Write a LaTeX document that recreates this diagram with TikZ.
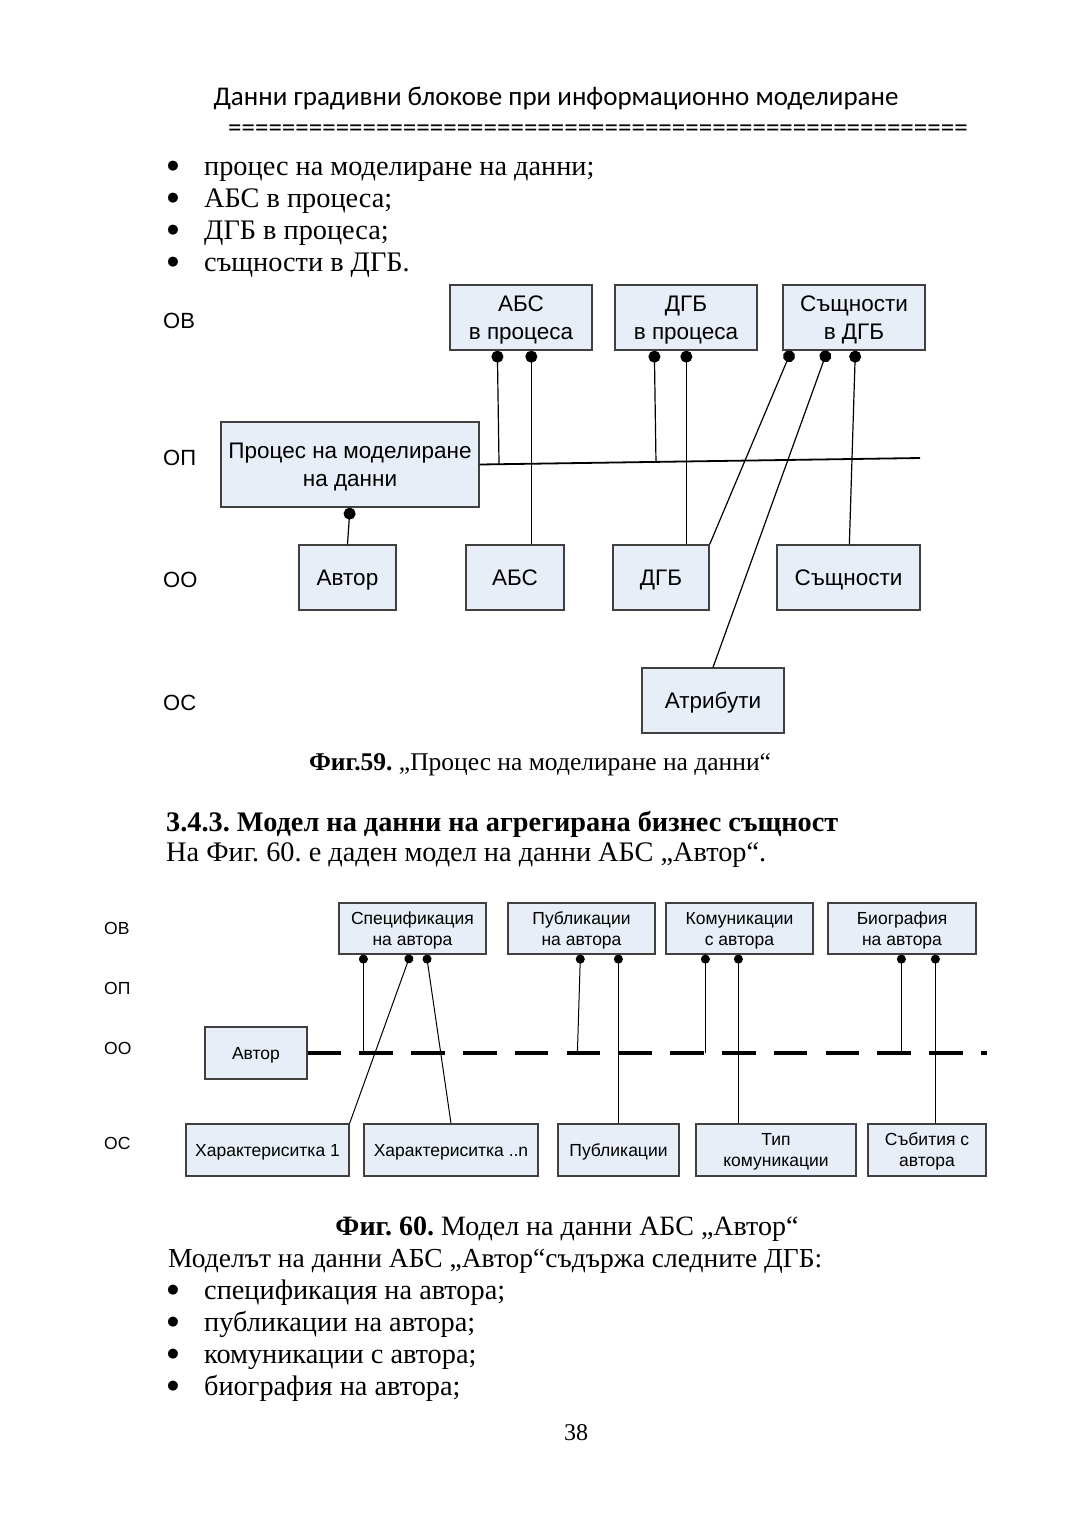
\documentclass[tikz,border=0pt]{standalone}
\usepackage{fontspec}
\setmainfont{Liberation Serif}
\newfontfamily\arialf{Liberation Sans}
\newfontfamily\calf{Carlito}
\newfontfamily\djvf{DejaVu Sans}
\usetikzlibrary{arrows.meta,calc}
\definecolor{boxfill}{RGB}{232,238,247}
\definecolor{boxline}{RGB}{64,64,64}
\newcommand{\bxsa}{\rule[-5pt]{0pt}{26pt}}
\newcommand{\bxsb}{\rule[-4pt]{0pt}{20.2pt}}
\frenchspacing
\begin{document}
\begin{tikzpicture}[x=1pt,y=-1pt,
  box59/.style={draw=boxline,line width=1.3pt,fill=boxfill,inner sep=0pt,align=center,
    font=\arialf\fontsize{22.5}{28}\selectfont},
  box60/.style={draw=boxline,line width=1.2pt,fill=boxfill,inner sep=0pt,align=center,
    font=\arialf\fontsize{17.5}{21}\selectfont},
  lab59/.style={anchor=west,inner sep=0pt,font=\arialf\fontsize{22}{26}\selectfont},
  lab60/.style={anchor=west,inner sep=0pt,font=\arialf\fontsize{17.5}{21}\selectfont},
  body/.style={anchor=base west,inner sep=0pt,font=\fontsize{28.3}{32}\selectfont},
  bul/.style={anchor=center,inner sep=0pt,font=\djvf\fontsize{13}{14}\selectfont},
  conn59/.style={line width=1.2pt,draw=black},
  conn60/.style={line width=1pt,draw=black},
  dot59/.style={conn59,{Circle[length=12pt,width=12pt]}-},
  dot60/.style={conn60,{Circle[length=9pt,width=9pt]}-},
  hline/.style={line width=1.8pt,draw=black},
  dash60/.style={line width=3.1pt,draw=black,dash pattern=on 33.5pt off 18.3pt}
]
\fill[white] (0,0) rectangle (1080,1532);
\useasboundingbox (0,0) rectangle (1080,1532);

% header
\node[anchor=base,inner sep=0pt,font=\calf\fontsize{27}{32}\selectfont] (hdr) at (556,105)
  {Данни градивни блокове при информационно моделиране};
\node[anchor=base west,inner sep=0pt,font=\calf\fontsize{27}{32}\selectfont] (eqline) at (228,136)
  {=======================================================};

% first list
\node[bul] (bu1) at (173,166) {●};
\node[body] (li1) at (204,175) {процес на моделиране на данни;};
\node[bul] (bu2) at (173,198) {●};
\node[body] (li2) at (204,207) {АБС в процеса;};
\node[bul] (bu3) at (173,230) {●};
\node[body] (li3) at (204,239) {ДГБ в процеса;};
\node[bul] (bu4) at (173,262) {●};
\node[body] (li4) at (204,271) {същности в ДГБ.};

% Fig 59 labels
\node[lab59] (l59ob) at (163,321) {ОВ};
\node[lab59] (l59op) at (163,458) {ОП};
\node[lab59] (l59oo) at (163,580) {ОО};
\node[lab59] (l59os) at (163,703) {ОС};

% Fig 59 boxes
\node[box59,minimum width=142pt,minimum height=65pt] (b59abs) at (521,317.5) {\bxsa АБС\\\bxsa в процеса};
\node[box59,minimum width=142pt,minimum height=65pt] (b59dgb) at (686,317.5) {\bxsa ДГБ\\\bxsa в процеса};
\node[box59,minimum width=142pt,minimum height=65pt] (b59sas) at (854,317.5) {\bxsa Същности\\\bxsa в ДГБ};
\node[box59,minimum width=258pt,minimum height=85pt] (b59proc) at (350,464.5) {\bxsa Процес на моделиране\\\bxsa на данни};
\node[box59,minimum width=97pt,minimum height=65pt] (b59avt) at (347.5,577.5) {\bxsa Автор};
\node[box59,minimum width=98pt,minimum height=65pt] (b59abs2) at (515,577.5) {\bxsa АБС};
\node[box59,minimum width=96pt,minimum height=65pt] (b59dgb2) at (661,577.5) {\bxsa ДГБ};
\node[box59,minimum width=143pt,minimum height=65pt] (b59sas2) at (848.5,577.5) {\bxsa Същности};
\node[box59,minimum width=142pt,minimum height=65pt] (b59atr) at (713,700.5) {\bxsa Атрибути};

% Fig 59 connectors
\coordinate (h59) at (920,458);
\draw[hline] (b59proc.east) -- (h59);
\coordinate (p59a1) at ([xshift=48pt]b59abs.south west);
\coordinate (p59a2) at ([xshift=82pt]b59abs.south west);
\coordinate (p59d1) at ([xshift=40pt]b59dgb.south west);
\coordinate (p59d2) at ([xshift=72pt]b59dgb.south west);
\coordinate (p59s1) at ([xshift=9pt]b59sas.south west);
\coordinate (p59s2) at ([xshift=45pt]b59sas.south west);
\coordinate (p59s3) at ([xshift=73pt]b59sas.south west);
\draw[dot59] (p59a1) -- ($(b59proc.east)!(p59a1)!(h59)$);
\draw[dot59] (p59a2) -- (p59a2 |- b59abs2.north);
\draw[dot59] (p59d1) -- ($(b59proc.east)!(p59d1)!(h59)$);
\draw[dot59] (p59d2) -- (p59d2 |- b59dgb2.north);
\draw[dot59] (p59s1) -- (b59dgb2.north east);
\draw[dot59] (p59s2) -- (b59atr.north);
\draw[dot59] (p59s3) -- ([xshift=73pt]b59sas2.north west);
\draw[dot59] (b59proc.south) -- (b59avt.north);

% caption 59 and text
\node[anchor=base,inner sep=0pt,font=\fontsize{25.5}{32}\selectfont] (cap59) at (540,770)
  {\textbf{Фиг.59.} „Процес на моделиране на данни“};
\node[body,font=\bfseries\fontsize{28.3}{32}\selectfont] (sec) at (166,831)
  {3.4.3. Модел на данни на агрегирана бизнес същност};
\node[body] (par1) at (166,861) {На Фиг. 60. е даден модел на данни АБС „Автор“.};

% Fig 60 labels
\node[lab60] (l60ob) at (104,928) {ОВ};
\node[lab60] (l60op) at (104,988) {ОП};
\node[lab60] (l60oo) at (104,1048) {ОО};
\node[lab60] (l60os) at (104,1143) {ОС};

% Fig 60 boxes
\node[box60,minimum width=147pt,minimum height=51pt] (s60spec) at (412.5,928.5) {\bxsb Спецификация\\\bxsb на автора};
\node[box60,minimum width=147pt,minimum height=51pt] (s60pub) at (581.5,928.5) {\bxsb Публикации\\\bxsb на автора};
\node[box60,minimum width=147pt,minimum height=51pt] (s60kom) at (739.5,928.5) {\bxsb Комуникации\\\bxsb с автора};
\node[box60,minimum width=148pt,minimum height=51pt] (s60bio) at (902,928.5) {\bxsb Биография\\\bxsb на автора};
\node[box60,minimum width=102pt,minimum height=52pt] (s60avt) at (256,1053) {\bxsb Автор};
\node[box60,minimum width=163pt,minimum height=52pt] (s60ch1) at (267.5,1150) {\bxsb Характериситка 1};
\node[box60,minimum width=174pt,minimum height=52pt] (s60chn) at (451,1150) {\bxsb Характериситка ..n};
\node[box60,minimum width=121pt,minimum height=52pt] (s60pub2) at (618.5,1150) {\bxsb Публикации};
\node[box60,minimum width=160pt,minimum height=52pt] (s60tip) at (776,1150) {\bxsb Тип\\\bxsb комуникации};
\node[box60,minimum width=118pt,minimum height=52pt] (s60sab) at (927,1150) {\bxsb Събития с\\\bxsb автора};

% Fig 60 connectors
\coordinate (dl) at (s60avt.east);
\coordinate (dlend) at (987,1053);
\draw[dash60] (s60avt.east) -- (dlend);
\coordinate (q1) at ([xshift=25pt]s60spec.south west);
\coordinate (q2) at ([xshift=72pt]s60spec.south west);
\coordinate (q3) at ([xshift=88pt]s60spec.south west);
\coordinate (q4) at ([xshift=73pt]s60pub.south west);
\coordinate (q4b) at ([xshift=70pt]s60pub.south west);
\coordinate (q5) at ([xshift=111pt]s60pub.south west);
\coordinate (q6) at ([xshift=40pt]s60kom.south west);
\coordinate (q7) at ([xshift=73pt]s60kom.south west);
\coordinate (q8) at ([xshift=74pt]s60bio.south west);
\coordinate (q9) at ([xshift=108pt]s60bio.south west);
\draw[dot60] (q1) -- (q1 |- dl);
\draw[dot60] (q2) -- (s60ch1.north east);
\draw[dot60] (q3) -- (s60chn.north);
\draw[dot60] (q4) -- (q4b |- dl);
\draw[dot60] (q5) -- (q5 |- s60pub2.north);
\draw[dot60] (q6) -- (q6 |- dl);
\draw[dot60] (q7) -- (q7 |- s60tip.north);
\draw[dot60] (q8) -- (q8 |- dl);
\draw[dot60] (q9) -- (q9 |- s60sab.north);

% caption 60 and text
\node[anchor=base,inner sep=0pt,font=\fontsize{28}{32}\selectfont] (cap60) at (567,1235)
  {\textbf{Фиг. 60.} Модел на данни АБС „Автор“};
\node[body,font=\fontsize{27.5}{32}\selectfont] (par2) at (168,1267) {Моделът на данни АБС „Автор“съдържа следните ДГБ:};
\node[bul] (bv1) at (173,1290) {●};
\node[body] (lv1) at (204,1299) {спецификация на автора;};
\node[bul] (bv2) at (173,1322) {●};
\node[body] (lv2) at (204,1331) {публикации на автора;};
\node[bul] (bv3) at (173,1354) {●};
\node[body] (lv3) at (204,1363) {комуникации с автора;};
\node[bul] (bv4) at (173,1386) {●};
\node[body] (lv4) at (204,1395) {биография на автора;};
\node[anchor=base,inner sep=0pt,font=\fontsize{24}{28}\selectfont] (pg) at (576,1440) {38};
\end{tikzpicture}
\end{document}
